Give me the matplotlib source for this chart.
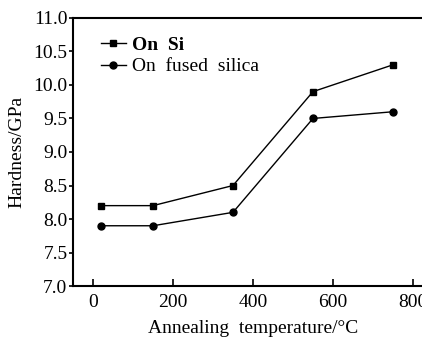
import matplotlib
matplotlib.use('Agg')
import matplotlib.pyplot as plt

# Annealing temperature (°C) and film hardness (GPa)
temperature = [20, 150, 350, 550, 750]
hardness_si = [8.2, 8.2, 8.5, 9.9, 10.3]
hardness_silica = [7.9, 7.9, 8.1, 9.5, 9.6]

plt.rcParams['font.family'] = ['Liberation Serif', 'DejaVu Serif']

fig = plt.figure(figsize=(4.22, 3.37), dpi=100)
ax = fig.add_axes([0.173, 0.151, 0.853, 0.796])

ax.plot(temperature, hardness_si, color='black', lw=1.0, marker='s', ms=4.5,
        label='On  Si')
ax.plot(temperature, hardness_silica, color='black', lw=1.0, marker='o', ms=5,
        label='On  fused  silica')

ax.set_xlim(-50, 850)
ax.set_ylim(7.0, 11.0)
ax.set_xticks([0, 200, 400, 600, 800])
ax.set_yticks([7.0, 7.5, 8.0, 8.5, 9.0, 9.5, 10.0, 10.5, 11.0])
ax.yaxis.set_major_formatter(matplotlib.ticker.FormatStrFormatter('%.1f'))

ax.tick_params(axis='x', direction='in', length=5, width=1.2, labelsize=14, pad=6)
ax.tick_params(axis='y', direction='out', length=3, width=1.2, labelsize=14, pad=1)

ax.spines['right'].set_visible(False)
for side in ['left', 'bottom', 'top']:
    ax.spines[side].set_linewidth(1.5)

ax.set_xlabel('Annealing  temperature/°C', fontsize=14, labelpad=6)
ax.set_ylabel('Hardness/GPa', fontsize=14, labelpad=6)

leg = ax.legend(loc='upper left', bbox_to_anchor=(0.055, 0.96), frameon=False,
                fontsize=14, handlelength=1.3, handletextpad=0.3,
                labelspacing=0.2, borderaxespad=0)
leg.get_texts()[0].set_fontweight('bold')

fig.savefig('out.png', dpi=100)
